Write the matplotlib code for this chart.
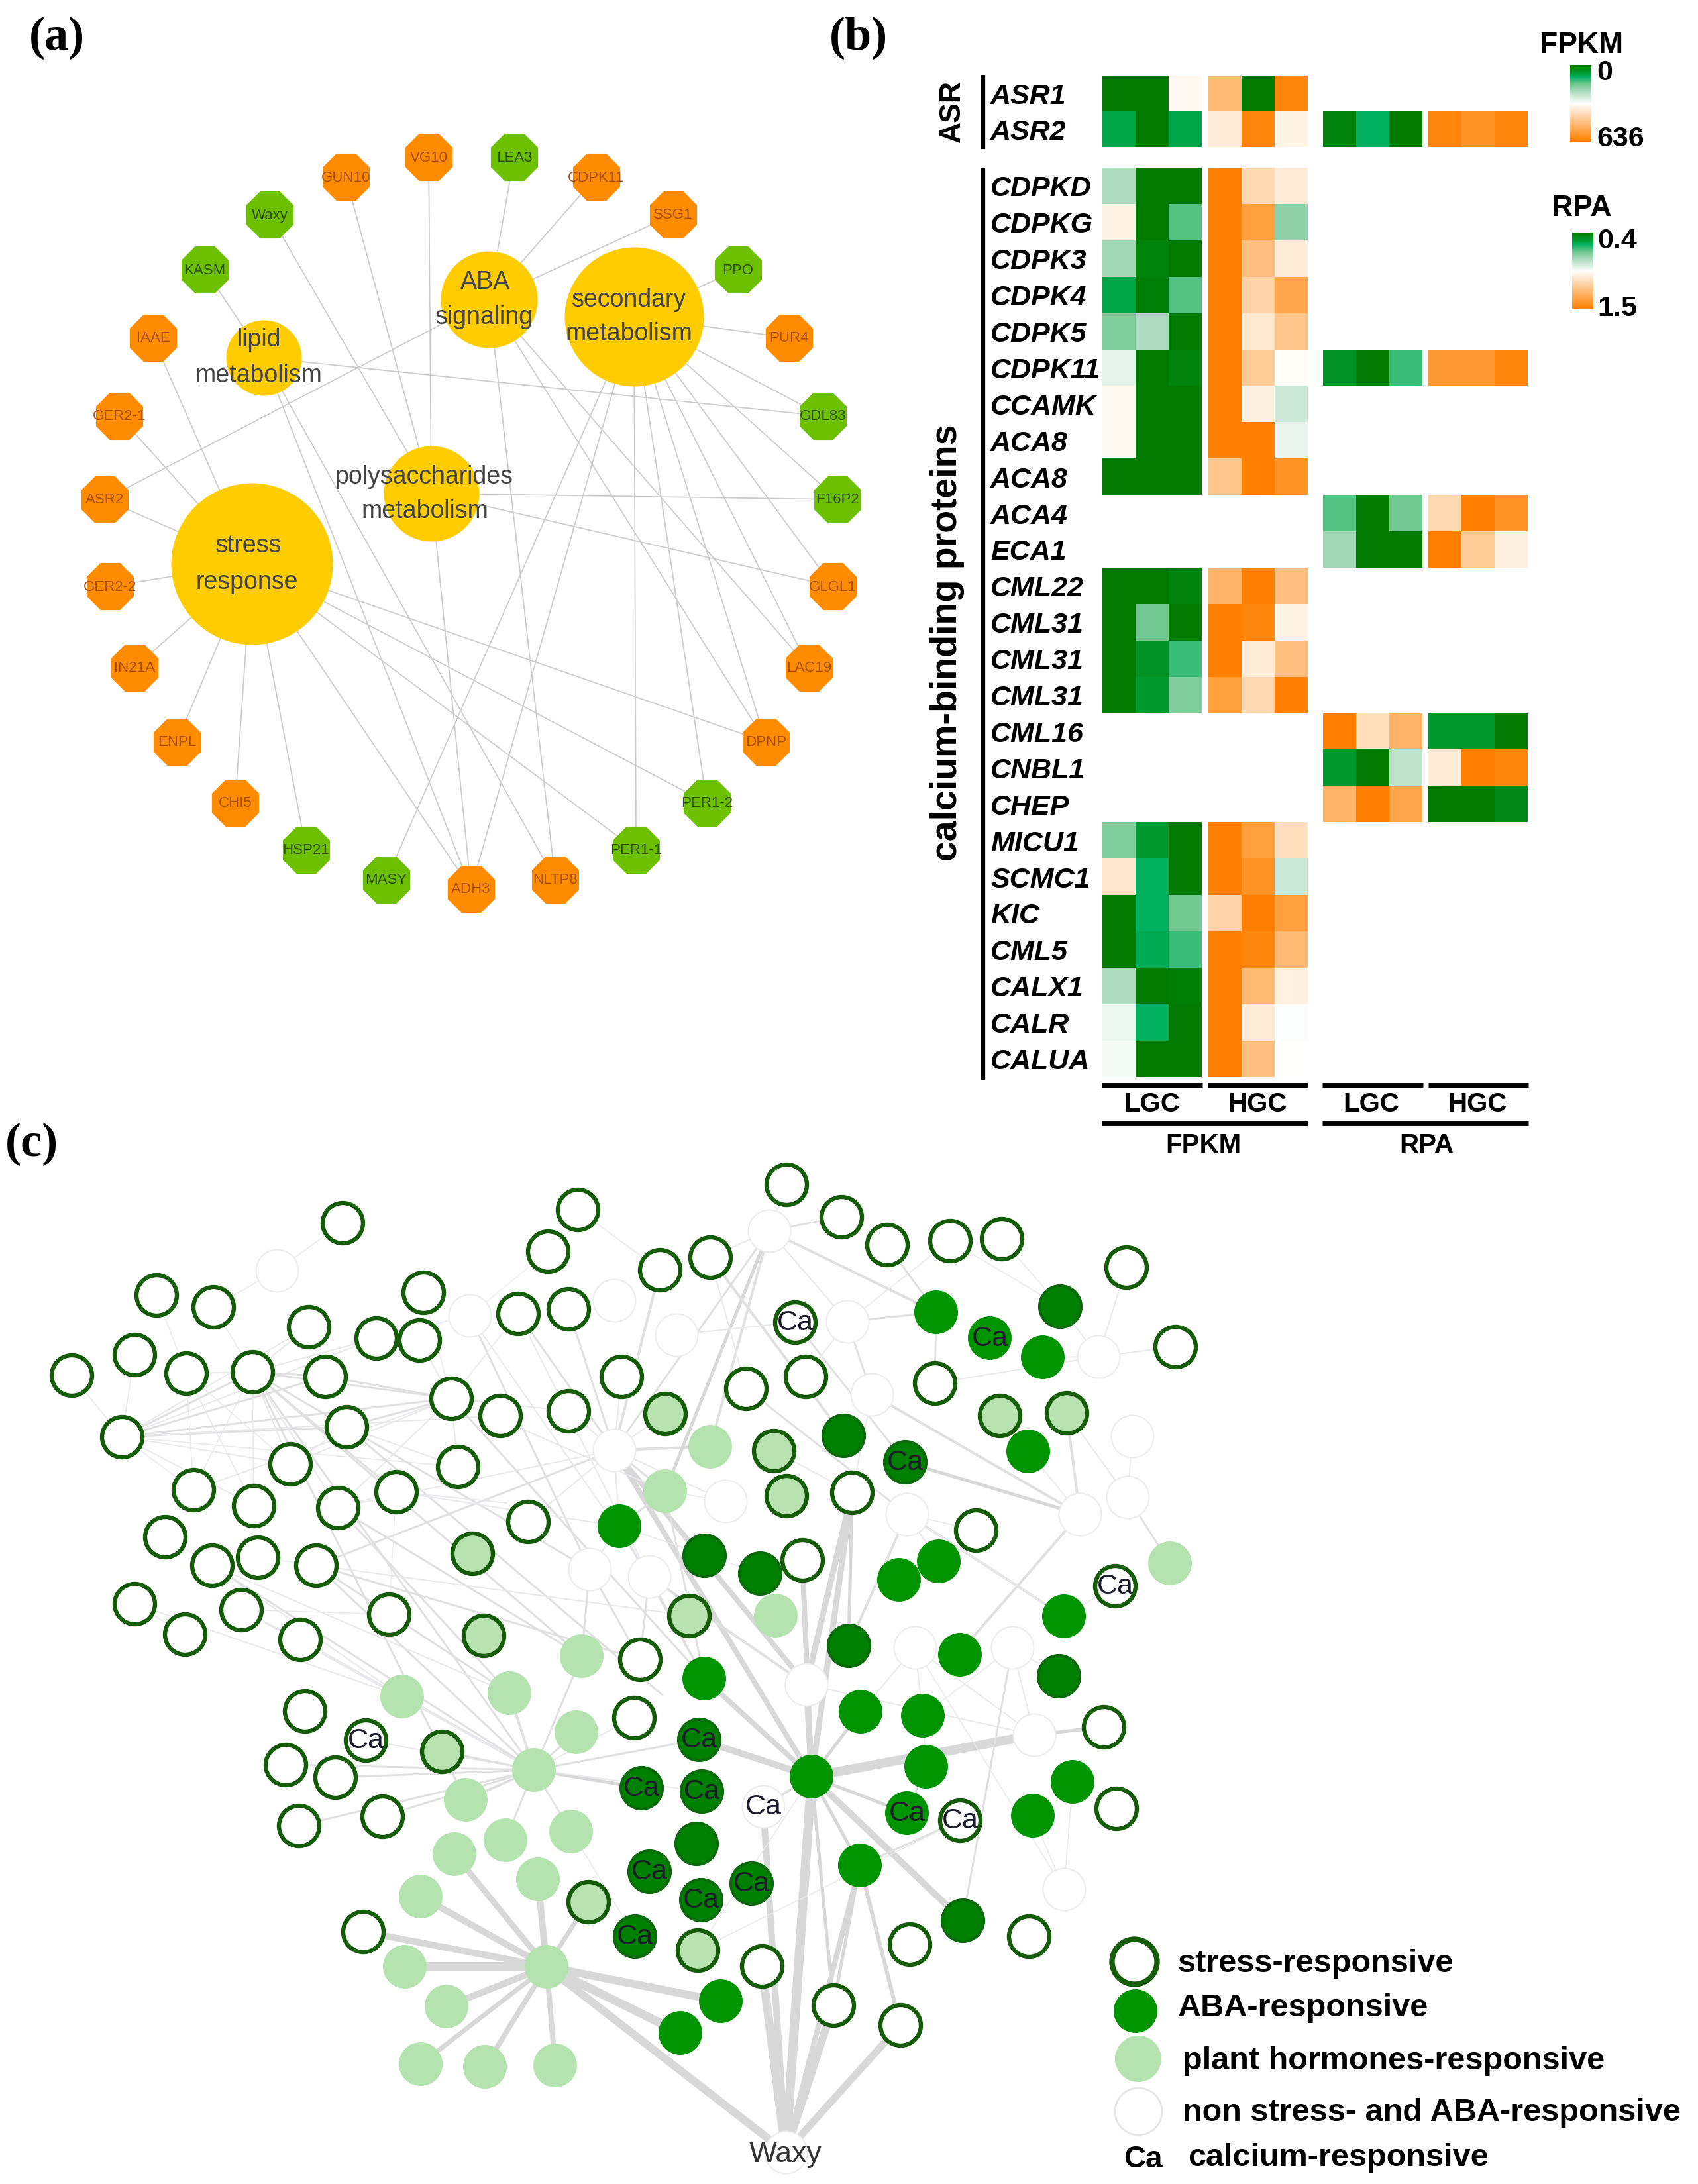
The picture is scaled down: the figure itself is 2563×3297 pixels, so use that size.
import numpy as np
import matplotlib
matplotlib.use("Agg")
import matplotlib.pyplot as plt
from matplotlib.colors import LinearSegmentedColormap

plt.rcParams['font.family'] = ['Liberation Sans', 'DejaVu Sans']

#-------- panel (a) network, pixel positions --------#
a_names = ["GUN10", "VG10", "LEA3", "CDPK11", "SSG1", "PPO", "PUR4", "GDL83", "F16P2", "GLGL1",
           "LAC19", "DPNP", "PER1-2", "PER1-1", "NLTP8", "ADH3", "MASY", "HSP21", "CHI5", "ENPL",
           "IN21A", "GER2-2", "ASR2", "GER2-1", "IAAE", "KASM", "Waxy"]
a_x = [522, 647, 776, 900, 1016, 1114, 1191, 1242, 1264, 1257, 1221, 1156, 1067, 960, 838, 711, 583,
       462, 355, 267, 203, 166, 158, 180, 231, 309, 407]
a_y = [268, 238, 238, 268, 325, 408, 511, 629, 755, 886, 1009, 1121, 1213, 1284, 1329, 1343, 1329,
       1284, 1213, 1121, 1009, 886, 755, 629, 511, 408, 325]
a_green = ["LEA3", "PPO", "GDL83", "F16P2", "PER1-2", "PER1-1", "MASY", "HSP21", "KASM", "Waxy"]

hub_names = ["stress", "lipid", "poly", "aba", "secondary"]
hub_x = [380, 398, 651, 738, 957]
hub_y = [852, 541, 746, 453, 479]
hub_r = [122, 57, 72, 73, 105]
hub_text = [("stress", 375, 824), ("response", 373, 879), ("lipid", 391, 513), ("metabolism", 390, 567),
            ("polysaccharides", 640, 720), ("metabolism", 641, 772), ("ABA", 732, 426),
            ("signaling", 731, 479), ("secondary", 949, 453), ("metabolism", 949, 504)]

a_edges = {
    "stress": ["IAAE", "GER2-1", "ASR2", "GER2-2", "IN21A", "ENPL", "CHI5", "HSP21", "ADH3", "PER1-1", "PER1-2", "DPNP"],
    "lipid": ["KASM", "ADH3", "NLTP8", "GDL83"],
    "poly": ["Waxy", "GUN10", "VG10", "ADH3", "F16P2", "GLGL1"],
    "aba": ["ASR2", "LEA3", "CDPK11", "SSG1", "NLTP8", "DPNP", "LAC19"],
    "secondary": ["PPO", "PUR4", "GDL83", "F16P2", "GLGL1", "LAC19", "DPNP", "PER1-2", "PER1-1", "ADH3", "MASY"],
}

#-------- panel (b) heatmap, -1 is dark green, 0 white, 1 orange --------#
genes = ["ASR1", "ASR2", "CDPKD", "CDPKG", "CDPK3", "CDPK4", "CDPK5", "CDPK11", "CCAMK", "ACA8", "ACA8",
         "ACA4", "ECA1", "CML22", "CML31", "CML31", "CML31", "CML16", "CNBL1", "CHEP", "MICU1", "SCMC1",
         "KIC", "CML5", "CALX1", "CALR", "CALUA"]
n = np.nan
fpkm_lgc = [[-1, -1, .05], [-.75, -1, -.75], [-.3, -1, -1], [.1, -1, -.55], [-.35, -.95, -1], [-.75, -.98, -.55],
            [-.45, -.3, -1], [-.1, -1, -.95], [.05, -1, -1], [.05, -1, -1], [-1, -1, -1], [n, n, n], [n, n, n],
            [-1, -1, -.95], [-1, -.5, -1], [-1, -.85, -.6], [-1, -.8, -.45], [n, n, n], [n, n, n], [n, n, n],
            [-.45, -.8, -1], [.2, -.7, -1], [-1, -.7, -.5], [-1, -.72, -.6], [-.3, -1, -.98], [-.07, -.7, -1],
            [-.04, -1, -1]]
fpkm_hgc = [[.55, -1, .95], [.15, .95, .1], [1, .3, .15], [1, .75, -.4], [1, .5, .15], [1, .35, .7],
            [1, .18, .45], [1, .4, .03], [1, .12, -.2], [1, 1, -.08], [.45, 1, .85], [n, n, n], [n, n, n],
            [.6, 1, .5], [1, .95, .1], [1, .15, .5], [.75, .3, 1], [n, n, n], [n, n, n], [n, n, n],
            [1, .75, .25], [1, .85, -.2], [.35, 1, .75], [1, .95, .55], [1, .55, .12], [1, .15, -.01],
            [1, .5, 0]]
rpa_lgc = [[n, n, n], [-.95, -.7, -1], [n, n, n], [n, n, n], [n, n, n], [n, n, n], [n, n, n], [-.85, -1, -.6],
           [n, n, n], [n, n, n], [n, n, n], [-.55, -1, -.5], [-.35, -1, -1], [n, n, n], [n, n, n], [n, n, n],
           [n, n, n], [1, .25, .6], [-.8, -1, -.25], [.6, 1, .7], [n, n, n], [n, n, n], [n, n, n], [n, n, n],
           [n, n, n], [n, n, n], [n, n, n]]
rpa_hgc = [[n, n, n], [.95, .85, .95], [n, n, n], [n, n, n], [n, n, n], [n, n, n], [n, n, n], [.8, .8, .95],
           [n, n, n], [n, n, n], [n, n, n], [.3, 1, .85], [1, .4, .12], [n, n, n], [n, n, n], [n, n, n],
           [n, n, n], [-.8, -.8, -1], [.15, 1, .95], [-1, -1, -.9], [n, n, n], [n, n, n], [n, n, n], [n, n, n],
           [n, n, n], [n, n, n], [n, n, n]]

#-------- panel (c) network nodes by class --------#
c_ring = [(517, 1847), (872, 1827), (827, 1890), (236, 1956), (322, 1974), (639, 1952), (466, 2004), (568, 2021),
          (633, 2024), (782, 1984), (858, 1977), (203, 2046), (108, 2077), (281, 2074), (381, 2072), (491, 2079),
          (938, 2079), (184, 2170), (681, 2112), (755, 2138), (858, 2131), (523, 2155), (438, 2211), (691, 2215),
          (292, 2250), (383, 2274), (510, 2277), (598, 2253), (797, 2298), (249, 2321), (320, 2364), (389, 2352),
          (477, 2364), (203, 2422), (364, 2431), (587, 2438), (279, 2468), (453, 2476), (1187, 1789), (1270, 1838),
          (1339, 1880), (1434, 1874), (1512, 1871), (1700, 1914), (1774, 2034), (996, 1918), (1072, 1899),
          (1126, 2097), (1216, 2079), (1411, 2089), (1286, 2254), (1473, 2311), (1211, 2356), (1200, 1997),
          (1683, 2395), (966, 2506), (460, 2584), (957, 2594), (431, 2665), (506, 2684), (451, 2757), (577, 2743),
          (552, 2628), (548, 2917), (1150, 2969), (1258, 3028), (1359, 3058), (1373, 2936), (1553, 2924),
          (1666, 2608), (1685, 2731), (1449, 2749)]
c_ring_light = [(713, 2346), (730, 2470), (1004, 2135), (1168, 2191), (1187, 2259), (1509, 2138), (1610, 2134),
                (1040, 2440), (667, 2645), (888, 2872), (1053, 2945)]
c_light = [(1072, 2185), (1004, 2252), (1766, 2361), (1171, 2440), (878, 2501), (607, 2562), (769, 2557), (870, 2616),
           (806, 2673), (703, 2718), (763, 2779), (862, 2766), (686, 2800), (812, 2838), (635, 2864), (825, 2970),
           (611, 2970), (674, 3030), (635, 3117), (732, 3121), (838, 3119)]
c_dark = [(1273, 2168), (1063, 2349), (1147, 2376), (1600, 1973), (1366, 2208), (1281, 2485), (1598, 2531), (1453, 2900),
          (1051, 2784), (1055, 2627), (968, 2700), (1059, 2705), (980, 2826), (1058, 2869), (1134, 2844), (958, 2924)]
c_bright = [(1413, 1982), (1574, 2050), (1552, 2192), (935, 2305), (1357, 2386), (1417, 2358), (1606, 2441), (1449, 2499),
            (1063, 2535), (1299, 2585), (1393, 2591), (1225, 2683), (1398, 2668), (1619, 2691), (1559, 2742), (1298, 2817),
            (1088, 3022), (1027, 3070), (1494, 2021), (1369, 2738)]
c_white = [(418, 1919), (709, 1987), (927, 1964), (927, 2190), (890, 2370), (980, 2381), (1161, 1859), (1021, 2016),
           (1279, 1996), (1316, 2106), (1658, 2049), (1709, 2169), (1630, 2287), (1702, 2261), (1369, 2287), (1095, 2267),
           (1217, 2544), (1381, 2488), (1528, 2488), (1561, 2620), (1606, 2853), (1152, 2728), (1186, 3250)]
c_ca = [(1200, 1997), (1494, 2021), (1366, 2208), (1683, 2395), (552, 2628), (1055, 2627), (968, 2700), (1059, 2705),
        (1152, 2728), (1369, 2738), (1449, 2749), (980, 2826), (1058, 2869), (1134, 2844), (958, 2924)]

# edges: hub, then (target, width in px)
c_edges = [
    ((825, 2970), [((611, 2970), 14), ((635, 2864), 10), ((686, 2800), 9), ((812, 2838), 10), ((674, 3030), 10),
                   ((635, 3117), 7), ((732, 3121), 8), ((838, 3119), 8), ((548, 2917), 10), ((888, 2872), 7),
                   ((1088, 3022), 12), ((1027, 3070), 13), ((1186, 3250), 12)]),
    ((1186, 3250), [((1150, 2969), 13), ((1258, 3028), 12), ((1359, 3058), 11), ((1225, 2683), 14), ((1152, 2728), 10),
                    ((1298, 2817), 8)]),
    ((1225, 2683), [((1561, 2620), 14), ((1055, 2627), 10), ((1217, 2544), 9), ((1453, 2900), 10), ((1369, 2738), 5),
                    ((1152, 2728), 4), ((1299, 2585), 5), ((927, 2190), 8), ((1298, 2817), 5), ((1258, 3028), 5),
                    ((1286, 2254), 9), ((1063, 2535), 8)]),
    ((1298, 2817), [((1359, 3058), 6), ((1258, 3028), 5), ((1449, 2749), 3)]),
    ((806, 2673), [((607, 2562), 4), ((769, 2557), 4), ((870, 2616), 3), ((703, 2718), 4), ((763, 2779), 3), ((862, 2766), 3),
                   ((968, 2700), 5), ((1055, 2627), 3), ((431, 2665), 3), ((506, 2684), 3), ((451, 2757), 3), ((577, 2743), 3),
                   ((552, 2628), 2), ((667, 2645), 3), ((957, 2594), 2), ((878, 2501), 3), ((958, 2924), 1.5), ((1059, 2705), 2),
                   ((320, 2364), 3), ((381, 2072), 3), ((477, 2364), 3)]),
    ((927, 2190), [((782, 1984), 3), ((858, 1977), 3), ((938, 2079), 2), ((1217, 2544), 8), ((858, 2131), 2), ((797, 2298), 2),
                   ((1072, 2185), 4), ((1004, 2252), 3), ((935, 2305), 2), ((1004, 2135), 2), ((1095, 2267), 2), ((477, 2364), 3),
                   ((1225, 2683), 7), ((996, 1918), 4)]),
    ((1161, 1859), [((1270, 1838), 3), ((1187, 1789), 2), ((1279, 1996), 2), ((1413, 1982), 4), ((1004, 2252), 5),
                    ((1072, 2185), 4), ((927, 2190), 3), ((1072, 1899), 2)]),
    ((1072, 1899), [((1273, 2168), 4), ((1126, 2097), 2)]),
    ((1200, 1997), [((1366, 2208), 3), ((1021, 2016), 2)]),
    ((1279, 1996), [((1316, 2106), 3), ((1413, 1982), 3), ((1434, 1874), 1.5), ((1216, 2079), 2)]),
    ((1413, 1982), [((1411, 2089), 3), ((1339, 1880), 3)]),
    ((1658, 2049), [((1774, 2034), 2), ((1700, 1914), 2), ((1600, 1973), 2), ((1411, 2089), 2), ((1574, 2050), 2)]),
    ((1600, 1973), [((1512, 1871), 1.5), ((1434, 1874), 1.5)]),
    ((1630, 2287), [((1610, 2134), 4), ((1316, 2106), 4), ((1366, 2208), 5), ((1448, 2496), 4), ((1509, 2138), 1.5)]),
    ((1702, 2261), [((1610, 2134), 2), ((1766, 2361), 3), ((1709, 2169), 1.5)]),
    ((1369, 2287), [((1606, 2441), 4), ((1126, 2097), 3), ((1281, 2485), 4), ((1417, 2358), 2), ((1473, 2311), 1.5)]),
    ((1286, 2254), [((1217, 2544), 9), ((1281, 2485), 5), ((1316, 2106), 2), ((1168, 2191), 2)]),
    ((1211, 2356), [((1225, 2683), 8), ((1147, 2376), 2)]),
    ((1561, 2620), [((1666, 2608), 5), ((1217, 2544), 2), ((1528, 2488), 2), ((1381, 2488), 2)]),
    ((1528, 2488), [((1453, 2900), 3), ((1598, 2531), 2), ((1393, 2591), 1.5)]),
    ((1606, 2853), [((1619, 2691), 1.5), ((1559, 2742), 1.5), ((1381, 2488), 1.5)]),
    ((1381, 2488), [((1393, 2591), 2), ((1299, 2585), 2)]),
    ((1393, 2591), [((1398, 2668), 2)]),
    ((1398, 2668), [((1369, 2738), 3)]),
    ((184, 2170), [((381, 2072), 3), ((466, 2004), 2), ((491, 2079), 3), ((568, 2021), 2), ((681, 2112), 3), ((523, 2155), 3),
                   ((755, 2138), 2), ((438, 2211), 2), ((691, 2215), 1.5), ((292, 2250), 1.5), ((383, 2274), 2),
                   ((108, 2077), 1.5), ((203, 2046), 1.5)]),
    ((381, 2072), [((466, 2004), 2), ((491, 2079), 3), ((681, 2112), 3), ((523, 2155), 3), ((598, 2253), 3), ((292, 2250), 1.5),
                   ((383, 2274), 1.5), ((438, 2211), 2), ((510, 2277), 2), ((878, 2501), 3), ((703, 2718), 3), ((281, 2074), 2),
                   ((322, 1974), 1.5), ((568, 2021), 2)]),
    ((281, 2074), [((292, 2250), 1.5), ((383, 2274), 1.5), ((438, 2211), 1.5), ((236, 1956), 1.5)]),
    ((681, 2112), [((491, 2079), 3), ((523, 2155), 3), ((438, 2211), 2), ((292, 2250), 2), ((510, 2277), 2), ((639, 1952), 1.5),
                   ((633, 2024), 2), ((1004, 2252), 2), ((1063, 2535), 3), ((691, 2215), 2), ((858, 2131), 2)]),
    ((709, 1987), [((890, 2370), 3), ((568, 2021), 1.5), ((827, 1890), 1), ((982, 2381), 2)]),
    ((782, 1984), [((980, 2381), 2), ((681, 2112), 1.5)]),
    ((418, 1919), [((517, 1847), 1.5), ((322, 1974), 1.5)]),
    ((872, 1827), [((996, 1918), 1.5), ((827, 1890), 1)]),
    ((523, 2155), [((890, 2370), 3), ((1000, 2560), 3), ((691, 2215), 2), ((438, 2211), 2)]),
    ((510, 2277), [((878, 2501), 3), ((769, 2557), 3), ((598, 2253), 2), ((927, 2190), 2)]),
    ((477, 2364), [((966, 2506), 3), ((769, 2557), 3), ((389, 2352), 1.5), ((1040, 2440), 2)]),
    ((320, 2364), [((607, 2562), 2), ((249, 2321), 1), ((769, 2557), 2), ((389, 2352), 1.5)]),
    ((203, 2422), [((607, 2562), 2), ((279, 2468), 1.5)]),
    ((364, 2431), [((806, 2673), 2), ((607, 2562), 2), ((587, 2438), 1.5)]),
    ((453, 2476), [((607, 2562), 2), ((364, 2431), 1.5), ((806, 2673), 2)]),
    ((598, 2253), [((587, 2438), 1), ((766, 2270), 2), ((935, 2305), 2)]),
    ((1004, 2252), [((935, 2305), 3), ((1063, 2535), 3), ((1095, 2267), 1.5)]),
    ((935, 2305), [((1063, 2535), 3), ((890, 2370), 2), ((980, 2381), 2), ((1147, 2376), 1.5)]),
    ((980, 2381), [((1063, 2535), 3), ((1217, 2544), 4), ((966, 2506), 3)]),
    ((890, 2370), [((966, 2506), 3), ((878, 2501), 3)]),
    ((1053, 2945), [((1449, 2749), 1.5), ((1225, 2683), 1.5)]),
    ((1606, 2441), [((1683, 2395), 1.5), ((1369, 2287), 2)]),
]

#-------- legend of panel (c) --------#
legend_text = ["stress-responsive", "ABA-responsive", "plant hormones-responsive",
               "non stress- and ABA-responsive", "calcium-responsive"]
legend_x = [1777, 1778, 1785, 1785, 1793]
legend_y = [2965, 3032, 3112, 3190, 3258]

fig = plt.figure(figsize=(25.63, 32.98), dpi=100)
ax = fig.add_axes([0, 0, 1, 1])
ax.set_xlim(0, 2563)
ax.set_ylim(3298, 0)
ax.axis('off')


def size(d_px):
    # marker area from a diameter in pixels
    return (d_px * 0.72) ** 2


#------------panel letters-----------#
for lab, lx, ly in [("(a)", 86, 57), ("(b)", 1296, 57), ("(c)", 48, 1727)]:
    ax.text(lx, ly, lab, family='Liberation Serif', weight='bold', fontsize=52, ha='center', va='center')

#------------panel a-----------#
a_pos = dict(zip(a_names, zip(a_x, a_y)))
hub_pos = dict(zip(hub_names, zip(hub_x, hub_y)))
for hub in a_edges:
    for other in a_edges[hub]:
        ax.plot([hub_pos[hub][0], a_pos[other][0]], [hub_pos[hub][1], a_pos[other][1]],
                color='#cccccc', lw=1.3, zorder=1)
for name, x, y in zip(a_names, a_x, a_y):
    col = '#6cc000' if name in a_green else '#ff8c00'
    tcol = '#2f4f16' if name in a_green else '#a8501a'
    ax.scatter(x, y, s=size(77), marker='8', color=col, linewidths=0, zorder=2)
    ax.text(x, y, name, fontsize=16, color=tcol, ha='center', va='center', zorder=4)
for x, y, r in zip(hub_x, hub_y, hub_r):
    ax.scatter(x, y, s=size(2 * r), color='#ffcc00', linewidths=0, zorder=2)
for t, x, y in hub_text:
    ax.text(x, y, t, fontsize=27, color='#444444', ha='center', va='center', zorder=4)

#------------panel b-----------#
cmap = LinearSegmentedColormap.from_list("gwo", [(0, '#007a00'), (0.1, '#009a30'), (0.15, '#00b060'),
                                                 (0.25, '#70c890'), (0.35, '#b0dcc0'),
                                                 (0.5, '#ffffff'), (1, '#ff8000')])
row_edges = [115, 168.5, 223] + [254 + 54.9 * i for i in range(26)]
blocks = [(fpkm_lgc, 1664, 1814), (fpkm_hgc, 1824, 1974), (rpa_lgc, 1997, 2147), (rpa_hgc, 2156, 2306)]
for vals, x0, x1 in blocks:
    vals = np.array(vals, dtype=float)
    xe = np.linspace(x0, x1, 4)
    # first two rows and the long group sit apart
    ax.pcolormesh(xe, row_edges[:3], np.ma.masked_invalid(vals[:2]), cmap=cmap, vmin=-1, vmax=1, zorder=2)
    ax.pcolormesh(xe, row_edges[3:], np.ma.masked_invalid(vals[2:]), cmap=cmap, vmin=-1, vmax=1, zorder=2)

for i, g in enumerate(genes):
    ym = (row_edges[i] + row_edges[i + 1]) / 2 if i < 2 else (row_edges[i + 1] + row_edges[i + 2]) / 2
    ax.text(1495, ym + 4, g, fontsize=31, weight='bold', style='italic', ha='left', va='center')

ax.plot([1484, 1484], [114, 226], color='k', lw=4.5, solid_capstyle='butt')
ax.plot([1484, 1484], [255, 1631], color='k', lw=4.5, solid_capstyle='butt')
ax.text(1437, 168, "ASR", fontsize=32, weight='bold', rotation=90, ha='center', va='center')
ax.text(1430, 970, "calcium-binding proteins", fontsize=40, weight='bold', rotation=90, ha='center', va='center')

for x0, x1 in [(1663, 1815), (1823, 1974), (1996, 2148), (2156, 2307)]:
    ax.plot([x0, x1], [1639, 1639], color='k', lw=5, solid_capstyle='butt')
for x0, x1 in [(1663, 1974), (1996, 2307)]:
    ax.plot([x0, x1], [1697, 1697], color='k', lw=5, solid_capstyle='butt')
for t, x in [("LGC", 1739), ("HGC", 1898), ("LGC", 2070), ("HGC", 2230)]:
    ax.text(x, 1667, t, fontsize=29, weight='bold', ha='center', va='center')
for t, x in [("FPKM", 1816), ("RPA", 2153)]:
    ax.text(x, 1729, t, fontsize=29, weight='bold', ha='center', va='center')

grad = np.linspace(-1, 1, 128).reshape(-1, 1)
ax.imshow(grad, extent=(2370, 2402, 215, 99), cmap=cmap, vmin=-1, vmax=1, aspect='auto', zorder=2)
ax.imshow(grad, extent=(2373, 2405, 468, 352), cmap=cmap, vmin=-1, vmax=1, aspect='auto', zorder=2)
ax.set_xlim(0, 2563)
ax.set_ylim(3298, 0)
ax.text(2387, 68, "FPKM", fontsize=32, weight='bold', ha='center', va='center')
ax.text(2387, 315, "RPA", fontsize=32, weight='bold', ha='center', va='center')
for t, x, y in [("0", 2410, 110), ("636", 2410, 210), ("0.4", 2411, 364), ("1.5", 2411, 466)]:
    ax.text(x, y, t, fontsize=31, weight='bold', ha='left', va='center')

#------------panel c-----------#
for hub, targets in c_edges:
    for (tx, ty), w in targets:
        if w >= 5:
            col = '#d8d8d8'
        elif w >= 3:
            col = '#e0e0e0'
        else:
            col = '#e9e9ed'
        ax.plot([hub[0], tx], [hub[1], ty], color=col, lw=w * 0.72, zorder=1, solid_capstyle='butt')

NODE = 66
RING = 61


def draw_nodes(nodes, d, face, edge, lw):
    xs = [p[0] for p in nodes]
    ys = [p[1] for p in nodes]
    ax.scatter(xs, ys, s=size(d), facecolor=face, edgecolor=edge, linewidths=lw, zorder=3)


draw_nodes(c_white, NODE - 2, '#ffffff', '#ececec', 1.5)
draw_nodes(c_light, NODE, '#b5e3b0', 'none', 0)
draw_nodes(c_bright, NODE, '#009400', 'none', 0)
draw_nodes(c_dark, RING + 2, '#008000', '#0b6a0b', 3)
draw_nodes(c_ring, RING, '#ffffff', '#145c08', 4.6)
draw_nodes(c_ring_light, RING, '#b8e2b0', '#145c08', 4.6)

for x, y in c_ca:
    ax.text(x, y, "Ca", fontsize=31, color='#1c1c2a', ha='center', va='center', zorder=5)
ax.text(1186, 3253, "Waxy", fontsize=32, color='#333333', ha='center', va='center', zorder=5)

# legend markers
draw_nodes([(1712, 2962)], 68, '#ffffff', '#145c08', 6)
draw_nodes([(1714, 3037)], 66, '#009400', 'none', 0)
draw_nodes([(1718, 3109)], 70, '#b5e3b0', 'none', 0)
draw_nodes([(1718, 3188)], 71, '#ffffff', '#e6e6e6', 2)
ax.text(1725, 3260, "Ca", fontsize=33, weight='bold', ha='center', va='center', zorder=5)
for t, x, y in zip(legend_text, legend_x, legend_y):
    ax.text(x, y, t, fontsize=35, weight='bold', ha='left', va='center', zorder=5)

fig.savefig("out.png", dpi=100, facecolor='white')
